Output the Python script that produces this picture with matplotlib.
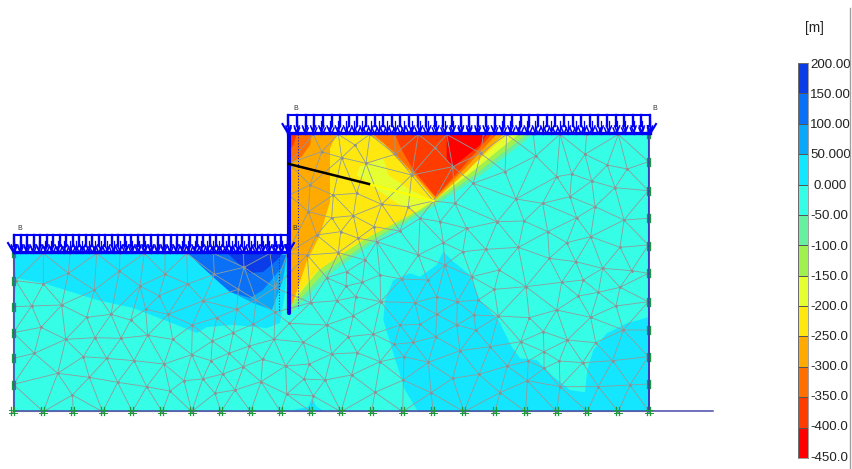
import matplotlib
matplotlib.use('Agg')
import matplotlib.pyplot as plt
import matplotlib.tri as mtri
import numpy as np
from matplotlib.colors import ListedColormap, BoundaryNorm

plt.rcParams['font.family'] = ['Liberation Sans', 'DejaVu Sans']

# colour scale
levels = [-450, -400, -350, -300, -250, -200, -150, -100, -50, 0, 50, 100, 150, 200]
level_colors = ['#ff0000', '#ff3c00', '#ff7000', '#ffaa00', '#ffe810', '#e6ff30', '#a0f050',
                '#66f0a0', '#36fde6', '#14e6ff', '#0aa8f8', '#0a70f5', '#0a3ce8']
# labels run into the panel edge in the original, only this much of them shows
level_labels = ['200.00', '150.00', '100.00', '50.000', '0.000', '-50.00', '-100.0', '-150.0',
                '-200.0', '-250.0', '-300.0', '-350.0', '-400.0', '-450.0']
level_label_y = [65, 95, 125, 155, 186, 216, 247, 277, 307, 337, 367, 397, 427, 458]

nodes_left = [(40,130),(130,130),(210,130),(290,130),(360,130),(433,130),(495,130),(560,130),(640,130),(730,130),(810,130),(862,130),
    (205,190),(358,183),(495,193),(643,193),(732,172),(810,170),(47,212),(130,222),(283,240),(420,228),(563,222),(715,238),(825,233),
    (40,290),(95,288),(185,285),(260,322),(333,313),(392,330),(477,257),(437,298),(505,313),(610,272),(650,323),(710,298),(768,270),(825,307),
    (40,368),(123,352),(197,388),(285,383),(363,385),(443,376),(518,388),(577,345),(700,368),(760,342),(637,393),(748,408),(822,388),(910,397),(868,340),(932,278),(980,345),
    (40,445),(103,430),(250,440),(320,445),(402,452),(492,462),(575,434),(633,452),(687,430),(730,470),(788,448),(857,468),(928,462),
    (40,523),(173,490),(268,502),(353,517),(440,530),(552,512),(608,507),(668,492),(783,515),(912,507),(975,510),
    (40,605),(130,605),(220,605),(308,605),(397,605),(487,605),(575,605),(663,605),(752,605),(842,605),(932,605),
    (217,555),(293,567),(510,543),(645,550),(705,540),(860,552),(940,558)]
nodes_right_low = [(25,68),(85,25),(140,35),(210,3),(105,90),(265,75),(340,38),(398,65),(467,58),(565,52),(710,38),(782,20),(870,52),(653,5),
    (50,125),(150,135),(215,147),(293,150),(345,105),(425,140),(508,120),(658,85),(737,95),(818,115),(905,122),(955,45),(955,130),
    (48,168),(97,157),(20,212),(77,200),(152,215),(255,218),(320,200),(382,215),(445,210),(493,178),(588,170),(695,157),(760,150),(805,187),(870,172),(745,198),(858,228),(955,215),
    (70,257),(210,285),(270,283),(320,253),(380,285),(432,255),(505,258),(598,263),(680,240),(782,262),(880,300),(955,300),
    (55,320),(130,312),(193,343),(250,337),(317,320),(437,300),(572,335),(640,305),(712,330),(797,338),
    (5,372),(82,368),(150,395),(222,380),(295,397),(390,362),(480,350),(642,365),(758,398),(688,393),(848,392),(595,393),(532,408),(642,415),(955,380),
    (65,435),(135,487),(220,450),(368,445),(447,433),(592,452),(690,470),(805,470),(900,465),(303,488),(510,488),(955,462),
    (33,545),(125,545),(218,545),(310,545),(402,545),(495,545),(587,545),(680,545),(772,545),(865,545),(957,545)]
nodes_right_top = [(57,118),(130,118),(205,118),(300,118),(375,118),(445,118),(530,118),(640,118),(710,118),(790,118),(870,118),(950,118),(1045,118),(1135,118),
    (155,170),(255,150),(495,158),(375,178),(632,175),(797,183),(945,178),(288,205),(215,188),(548,215),(425,240),(705,230),(860,245),(57,205),
    (120,270),(190,300),(260,295),(335,328),(415,335),(490,318),(610,265),(555,325),(738,312),(818,325),(900,305),(905,237),(965,258),(1012,210),(1072,222),(1035,278),(975,335),(1062,375),(1135,200),(1135,287),
    (115,350),(185,368),(250,362),(312,395),(390,408),(450,370),(510,380),(590,400),(682,380),(762,378),(833,410),(920,368),(890,447),(963,425),(1135,370),
    (140,420),(212,410),(205,470),(112,480),(285,490),(445,480),(525,510),(648,462),(745,458),(838,490),(918,500),(998,520),(1085,525),(57,300),(57,470),
    (170,548),(258,605),(395,550),(500,605),(605,545),(688,525),(768,575),(875,562),(985,592),(120,622),(200,615),(330,620),(435,625),(562,620),(57,655)]

# colour regions, crop px as well
region_shape = [(14,253),(288,253),(288,134),(649,134),(649,411),(14,411)]
left_cyan = [(14,253),(288,253),(287,270),(285,293),(280,323),(267,328),(233,325),(207,327),(197,333),(177,325),(133,308),(97,300),(43,283),(14,278)]
left_50 = [(187,253),(233,293),(253,303),(272,310),(283,280),(287,255)]
left_100 = [(188,253),(200,265),(213,277),(230,292),(250,298),(263,290),(282,267),(287,255)]
left_150 = [(227,253),(240,265),(250,273),(263,272),(277,260),(283,253)]
blob_cyan = [(340,65),(370,95),(420,135),(450,210),(505,270),(545,350),(570,385),(620,390),(670,440),(720,480),(765,487),(772,420),(790,360),(830,310),(890,280),(955,262),(955,545),(265,545),(255,530),(225,480),(190,370),(160,270),(165,210),(190,150),(240,130),(270,140),(320,105),(335,75)]
bottom_bit = [(880,600),(925,590),(935,565),(950,590),(975,605)]
wedge_m100 = [(790,118),(640,235),(490,335),(300,450),(170,545),(60,660),(55,118)]
wedge_m150 = [(770,118),(620,235),(490,325),(290,445),(160,535),(60,645),(55,118)]
wedge_m200 = [(745,118),(600,235),(490,318),(280,435),(150,520),(60,630),(55,118)]
wedge_m250 = [(715,118),(580,235),(493,315),(420,360),(270,440),(140,530),(60,625),(55,118)]
patch_m200 = [(270,215),(340,190),(355,240),(420,285),(490,318),(440,350),(390,330),(330,290),(290,260),(260,240)]
orange_left = [(57,118),(200,118),(180,160),(180,320),(150,420),(110,500),(70,620),(57,640)]
orange_wedge = [(295,118),(340,145),(380,190),(430,240),(495,315),(590,230),(700,118)]
dark_wedge = [(310,118),(370,170),(430,235),(497,308),(580,225),(680,118)]
red_wedge = [(375,118),(395,165),(430,225),(497,305),(570,225),(665,118)]
pure_red = [(530,118),(530,190),(545,220),(630,150),(650,118)]
dark_left = [(57,118),(125,118),(120,150),(95,185),(57,205)]
red_left = [(57,118),(80,118),(70,150),(57,170)]

# supports
left_fix_y = [253, 281, 307, 333, 358, 385]
right_fix_y = [134, 162, 191, 218, 246, 273, 302, 330, 357, 384]
bottom_fix_x = [13, 43, 73, 103, 132, 162, 192, 221, 251, 281, 311, 341, 372, 403, 433, 464, 495, 526, 557, 587, 618, 649]
b_labels = [(20, 228), (295, 228), (296, 109), (655, 109)]


def crop(pts, x0, y0):
    return [(x / 3 + x0, y / 3 + y0) for x, y in pts]


def draw_load(ax, x0, x1, y_top, y_bot):
    blue = '#0000f5'
    ax.plot([x0, x0, x1, x1], [y_top + 8, y_top, y_top, y_top + 8], c=blue, lw=1.5, zorder=6)
    ax.plot([x0, x1], [y_bot - 1, y_bot - 1], c=blue, lw=2.4, zorder=6)
    # first load, plain comb
    for x in np.linspace(x0, x1, 43):
        ax.plot([x, x], [y_top, y_top + 11], c=blue, lw=1.7, zorder=6)
        ax.plot([x - 2.5, x, x + 2.5], [y_bot - 6, y_bot, y_bot - 6], c=blue, lw=1.1, zorder=6)
    # second load, slightly different spacing so both beat against each other
    for x in np.linspace(x0, x1, 45):
        ax.plot([x, x], [y_top + 6, y_bot], c=blue, lw=0.9, zorder=6)
        ax.plot([x - 2.5, x, x + 2.5], [y_bot - 8, y_bot - 2, y_bot - 8], c=blue, lw=1.1, zorder=6)
    ax.plot([x0 - 6, x0, x0 + 2], [y_bot - 10, y_bot, y_bot - 8], c=blue, lw=1.5, zorder=6)
    ax.plot([x1 - 2, x1, x1 + 6], [y_bot - 8, y_bot, y_bot - 10], c=blue, lw=1.5, zorder=6)


fig = plt.figure(figsize=(8.53, 4.69), dpi=100)
ax = fig.add_axes([0, 0, 1, 1])
ax.set_xlim(0, 853)
ax.set_ylim(469, 0)
ax.axis('off')

# filled result
col = dict(zip(levels[:-1], level_colors))
regions = [
    (region_shape, -50),
    (left_cyan, 0), (left_50, 50), (left_100, 100), (left_150, 150),
    (crop(blob_cyan, 330, 230), 0), (crop(bottom_bit, 0, 210), 0),
    (crop(wedge_m100, 270, 95), -100), (crop(wedge_m150, 270, 95), -150),
    (crop(wedge_m200, 270, 95), -200), (crop(wedge_m250, 270, 95), -250),
    (crop(patch_m200, 270, 95), -200), (crop(orange_left, 270, 95), -300),
    (crop(orange_wedge, 270, 95), -300), (crop(dark_wedge, 270, 95), -350),
    (crop(red_wedge, 270, 95), -400), (crop(pure_red, 270, 95), -450),
    (crop(dark_left, 270, 95), -350), (crop(red_left, 270, 95), -400),
]
for pts, lev in regions:
    ax.fill(*zip(*pts), color=col[lev], lw=0, zorder=1)

# mesh
nodes = []
for p in crop(nodes_left, 0, 210) + crop(nodes_right_low, 330, 230) + crop(nodes_right_top, 270, 95):
    if all(np.hypot(p[0] - q[0], p[1] - q[1]) > 14 for q in nodes):
        nodes.append(p)
nx, ny = np.array(nodes).T
tri = mtri.Triangulation(nx, ny)
cx = nx[tri.triangles].mean(axis=1)
cy = ny[tri.triangles].mean(axis=1)
tri.set_mask((cx < 288) & (cy < 253))
ax.triplot(tri, c='#8f9c9c', lw=0.6, zorder=2)
ax.plot(nx, ny, ls='none', marker='o', ms=1.0, c='#8f9090', zorder=2)

# model outline
ax.plot([14, 14], [253, 411.5], c='#3a3ab0', lw=1.1, zorder=3)
ax.plot([649, 649], [134, 411.5], c='#2a2ac0', lw=1.2, zorder=3)
ax.plot([14, 713], [411.5, 411.5], c='#4a4aa8', lw=1.1, zorder=3)

# wall, interfaces, anchor
ax.plot([298.5, 298.5], [134, 308], c='#2020c0', lw=0.8, ls=':', zorder=4)
ax.plot([279.5, 279.5], [253, 312], c='#2020c0', lw=0.8, ls=':', zorder=4)
ax.plot([289, 289], [134, 313], c='#0000e0', lw=3.0, solid_capstyle='round', zorder=5)
ax.plot([369, 433.5], [184, 201], c='#ffff00', lw=1.6, zorder=3)
ax.plot([289, 369], [164, 184], c='black', lw=1.8, zorder=5)

# loads
draw_load(ax, 14, 288, 235, 253)
draw_load(ax, 288.5, 650, 115, 134)

# supports
green = '#1a9a3a'
for y in left_fix_y:
    ax.plot([12.5, 12.5], [y - 4, y + 4], c=green, lw=0.9, zorder=4)
    ax.plot([15.5, 15.5], [y - 4, y + 4], c=green, lw=0.9, zorder=4)
for y in right_fix_y:
    ax.plot([647.5, 647.5], [y - 4, y + 4], c=green, lw=0.9, zorder=4)
    ax.plot([650.5, 650.5], [y - 4, y + 4], c=green, lw=0.9, zorder=4)
for x in bottom_fix_x:
    ax.plot([x - 1.5, x - 1.5], [407.5, 415.5], c=green, lw=0.9, zorder=4)
    ax.plot([x + 1.5, x + 1.5], [407.5, 415.5], c=green, lw=0.9, zorder=4)
    ax.plot([x - 4, x + 4], [410, 410], c=green, lw=0.7, zorder=4)
    ax.plot([x - 4, x + 4], [413, 413], c=green, lw=0.7, zorder=4)

for x, y in b_labels:
    ax.text(x, y, 'B', fontsize=5, ha='center', va='center', color='#333333', zorder=7)

# colour bar on the right
cax = fig.add_axes([798 / 853, 1 - 458 / 469, 10 / 853, 395 / 469])
cmap = ListedColormap(level_colors)
norm = BoundaryNorm(levels, cmap.N)
cax.pcolormesh([0, 1], levels, np.array(levels[:-1]).reshape(-1, 1) + 1, cmap=cmap, norm=norm,
               edgecolors='#555555', linewidth=0.4)
cax.set_xticks([])
cax.set_yticks([])
for s in cax.spines.values():
    s.set_linewidth(0.5)
    s.set_color('#777777')

for lab, y in zip(level_labels, level_label_y):
    ax.text(814 if lab == '0.000' else 810, y, lab, fontsize=9.6, va='center', ha='left', color='#222222', zorder=7)
ax.text(805, 28, '[m]', fontsize=9.8, va='center', ha='left', color='#222222', zorder=7)
ax.fill([850, 853, 853, 850], [0, 0, 469, 469], color='white', lw=0, zorder=8)
ax.plot([850, 850], [8, 469], c='#a0a0a0', lw=1.0, zorder=9)

fig.savefig('out.png', dpi=100)
